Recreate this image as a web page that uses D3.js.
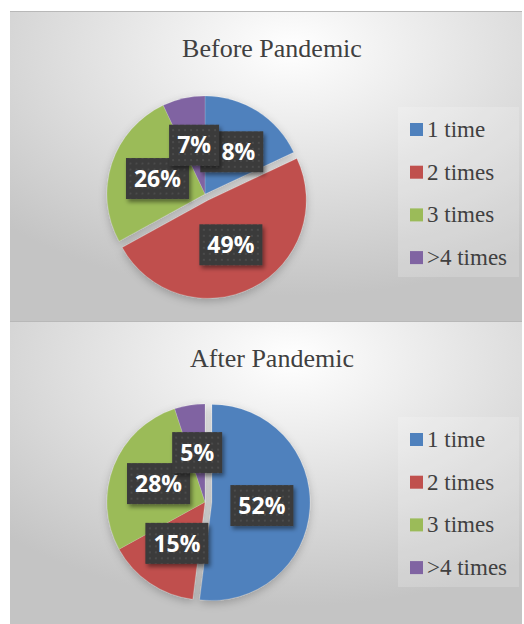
<!DOCTYPE html>
<html>
<head>
<meta charset="utf-8">
<script src="https://cdn.jsdelivr.net/npm/d3@7"></script>
<style>
  html, body { margin: 0; padding: 0; background: #ffffff; }
  svg { display: block; }
</style>
</head>
<body>
<svg id="chart" width="524" height="624"></svg>
<script>
// ---- data ----
const categories = ["1 time", "2 times", "3 times", ">4 times"];
const beforeValues = [18, 49, 26, 7];
const afterValues = [52, 15, 28, 5];
const chartTitles = ["Before Pandemic", "After Pandemic"];
const colors = ["#4F81BD", "#C0504D", "#9BBB59", "#8064A2"];

// ---- layout ----
const panels = [
  { top: 11, values: beforeValues, title: chartTitles[0], explode: 1, cy: 194 },
  { top: 321, values: afterValues, title: chartTitles[1], explode: 0, cy: 502 }
];
const panelX = 10, panelW = 512, panelH = 310;
const radius = 98, explodeDist = 7;

const svg = d3.select("#chart");
const defs = svg.append("defs");

// background gradient
const grad = defs.append("radialGradient").attr("id", "bg")
  .attr("cx", 0.55).attr("cy", 0.12).attr("r", 0.8).attr("fx", 0.55).attr("fy", 0.12);
grad.append("stop").attr("offset", "0%").attr("stop-color", "#ffffff");
grad.append("stop").attr("offset", "45%").attr("stop-color", "#e4e4e4");
grad.append("stop").attr("offset", "100%").attr("stop-color", "#c4c4c4");

// pie shadow
const sh = defs.append("filter").attr("id", "pieShadow")
  .attr("x", "-20%").attr("y", "-20%").attr("width", "140%").attr("height", "140%");
sh.append("feDropShadow").attr("dx", 0).attr("dy", 3).attr("stdDeviation", 4)
  .attr("flood-color", "#000").attr("flood-opacity", 0.22);

// label shadow
const ls = defs.append("filter").attr("id", "lblShadow")
  .attr("x", "-20%").attr("y", "-20%").attr("width", "150%").attr("height", "160%");
ls.append("feDropShadow").attr("dx", 2).attr("dy", 3).attr("stdDeviation", 2)
  .attr("flood-color", "#000").attr("flood-opacity", 0.45);

// dotted texture for label boxes
const pat = defs.append("pattern").attr("id", "dots")
  .attr("width", 6).attr("height", 6).attr("patternUnits", "userSpaceOnUse");
pat.append("rect").attr("width", 6).attr("height", 6).attr("fill", "#3a3a3a");
pat.append("circle").attr("cx", 3).attr("cy", 3).attr("r", 1).attr("fill", "#505050");

const pie = d3.pie().sort(null).value(d => d);
const arc = d3.arc().innerRadius(0).outerRadius(radius);
const labelArc = d3.arc().innerRadius(0).outerRadius(100);
const fmt = d => d + "%";

panels.forEach((p, pi) => {
  const g = svg.append("g");
  g.append("rect").attr("x", panelX).attr("y", p.top).attr("width", panelW).attr("height", panelH)
    .attr("fill", "url(#bg)");
  g.append("line").attr("x1", panelX).attr("x2", panelX + panelW)
    .attr("y1", p.top + 0.5).attr("y2", p.top + 0.5)
    .attr("stroke", "#b8b8b8").attr("stroke-width", 1);

  g.append("text").attr("x", 272).attr("y", p.top + 46)
    .attr("text-anchor", "middle")
    .attr("font-family", "'Liberation Serif', 'Times New Roman', serif")
    .attr("font-size", 26).attr("fill", "#404040").text(p.title);

  const cx = 205;
  const arcs = pie(p.values);
  const offset = (d, i) => {
    if (i !== p.explode) return [0, 0];
    const a = (d.startAngle + d.endAngle) / 2;
    return [Math.sin(a) * explodeDist, -Math.cos(a) * explodeDist];
  };

  const pg = g.append("g").attr("transform", `translate(${cx},${p.cy})`)
    .attr("filter", "url(#pieShadow)");
  pg.selectAll("path").data(arcs).join("path")
    .attr("transform", (d, i) => { const o = offset(d, i); return `translate(${o[0]},${o[1]})`; })
    .attr("d", arc)
    .attr("fill", (d, i) => colors[i])
    .attr("stroke", "rgba(255,255,255,0.25)").attr("stroke-width", 0.6);

  // labels
  const lg = g.append("g").attr("transform", `translate(${cx},${p.cy})`);
  arcs.forEach((d, i) => {
    const c = labelArc.centroid(d);
    const o = offset(d, i);
    const x = c[0] + o[0], y = c[1] + o[1];
    const txt = fmt(p.values[i]);
    const w = txt.length === 2 ? 50 : 63, h = 41;
    const item = lg.append("g").attr("transform", `translate(${x},${y})`);
    item.append("rect").attr("x", -w / 2).attr("y", -h / 2).attr("width", w).attr("height", h)
      .attr("fill", "url(#dots)").attr("filter", "url(#lblShadow)");
    item.append("text").attr("x", 0).attr("y", 0).attr("dy", "0.36em")
      .attr("text-anchor", "middle")
      .attr("font-family", "'Open Sans', 'Noto Sans', sans-serif")
      .attr("font-weight", "bold").attr("font-size", 23).attr("fill", "#ffffff")
      .text(txt);
  });

  // legend
  const legTop = p.top + 96;
  g.append("rect").attr("x", 398).attr("y", legTop).attr("width", 121).attr("height", 170)
    .attr("fill", "rgba(255,255,255,0.18)");
  const leg = g.append("g");
  categories.forEach((c, i) => {
    const by = p.top + 126 + i * 42.7;
    leg.append("rect").attr("x", 410).attr("y", by - 14).attr("width", 13).attr("height", 13)
      .attr("fill", colors[i]);
    leg.append("text").attr("x", 427).attr("y", by)
      .attr("font-family", "'Liberation Serif', 'Times New Roman', serif")
      .attr("font-size", 23).attr("fill", "#404040").text(c);
  });
});
</script>
</body>
</html>
